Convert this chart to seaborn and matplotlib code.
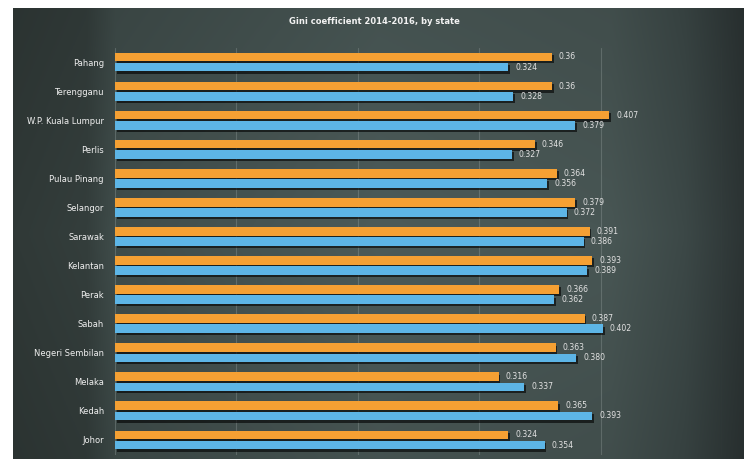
import numpy as np
import pandas as pd
import matplotlib
matplotlib.use("Agg")
import matplotlib.pyplot as plt
import matplotlib.patheffects as pe
import seaborn as sns

states = ["Pahang", "Terengganu", "W.P. Kuala Lumpur", "Perlis", "Pulau Pinang",
          "Selangor", "Sarawak", "Kelantan", "Perak", "Sabah", "Negeri Sembilan",
          "Melaka", "Kedah", "Johor"]
gini_2014 = [0.36, 0.36, 0.407, 0.346, 0.364, 0.379, 0.391, 0.393, 0.366, 0.387,
             0.363, 0.316, 0.365, 0.324]
gini_2016 = [0.324, 0.328, 0.379, 0.327, 0.356, 0.372, 0.386, 0.389, 0.362, 0.402,
             0.380, 0.337, 0.393, 0.354]
labels_2014 = ["0.36", "0.36", "0.407", "0.346", "0.364", "0.379", "0.391", "0.393",
               "0.366", "0.387", "0.363", "0.316", "0.365", "0.324"]
labels_2016 = ["0.324", "0.328", "0.379", "0.327", "0.356", "0.372", "0.386", "0.389",
               "0.362", "0.402", "0.380", "0.337", "0.393", "0.354"]
years = ["2014", "2016"]
title = "Gini coefficient 2014-2016, by state"

df = pd.DataFrame({
    "state": states * 2,
    "year": [years[0]] * len(states) + [years[1]] * len(states),
    "gini": gini_2014 + gini_2016,
})

sns.set_theme(style="white")
plt.rcParams["font.family"] = ["DejaVu Sans"]

W, H = 744, 459
fig = plt.figure(figsize=(W / 100, H / 100), dpi=100)
fig.patch.set_facecolor("white")

# chalkboard-like background
bg = fig.add_axes([13 / W, 0, 1 - 13 / W, 451 / H])
xs = np.linspace(0, 1, 400)
ys = np.linspace(0, 1, 200)
stops = [0.0, 0.1, 0.14, 0.5, 0.82, 0.92, 1.0]
cols = np.array([[48, 57, 55], [52, 62, 60], [64, 77, 75], [76, 91, 89],
                 [72, 86, 84], [60, 72, 71], [44, 52, 52]]) / 255
row = np.stack([np.interp(xs, stops, cols[:, k]) for k in range(3)], axis=-1)
vert = np.interp(ys, [0, 0.5, 1], [0.9, 1.0, 0.9])[:, None, None]
img = np.clip(row[None, :, :] * vert, 0, 1)
bg.imshow(img, aspect="auto", extent=[0, 1, 0, 1], origin="upper")
bg.axis("off")

ax = fig.add_axes([115 / W, (H - 454.5) / H, (722 - 115) / W, (454.5 - 47.5) / H])
ax.patch.set_alpha(0)

orange = "#F5A033"
blue = "#5DB5E6"
sns.barplot(data=df, y="state", x="gini", hue="year", order=states, hue_order=years,
            palette=[orange, blue], width=0.7, gap=0.15, saturation=1,
            linewidth=0, legend=False, ax=ax, zorder=3)

for p in ax.patches:
    p.set_path_effects([pe.SimplePatchShadow(offset=(1.2, -1.6), shadow_rgbFace="black",
                                             alpha=0.6), pe.Normal()])

for cont, labs in zip(ax.containers, [labels_2014, labels_2016]):
    ax.bar_label(cont, labels=labs, padding=5, fontsize=5.6, color="#e2e2e2")

ax.set_xlim(0, 0.5)
ax.set_ylim(len(states) - 0.5, -0.5)
ax.set_xticks([0.1, 0.2, 0.3, 0.4, 0.5])
ax.grid(axis="x", color="#c8d0cf", alpha=0.22, linewidth=0.8, zorder=0)
ax.tick_params(axis="x", length=0, labelbottom=False)
ax.tick_params(axis="y", length=0, labelsize=6.0, labelcolor="#f0f0f0", pad=8)
ax.set_xlabel("")
ax.set_ylabel("")
for s in ax.spines.values():
    s.set_visible(False)
ax.axvline(0, color="#9aa6a4", alpha=0.35, linewidth=0.8, zorder=1)

fig.text(0.503, 1 - 22 / H, title, ha="center", va="center", fontsize=6.0,
         fontweight="bold", color="#f2f2f2")

fig.savefig("out.png", dpi=100)
